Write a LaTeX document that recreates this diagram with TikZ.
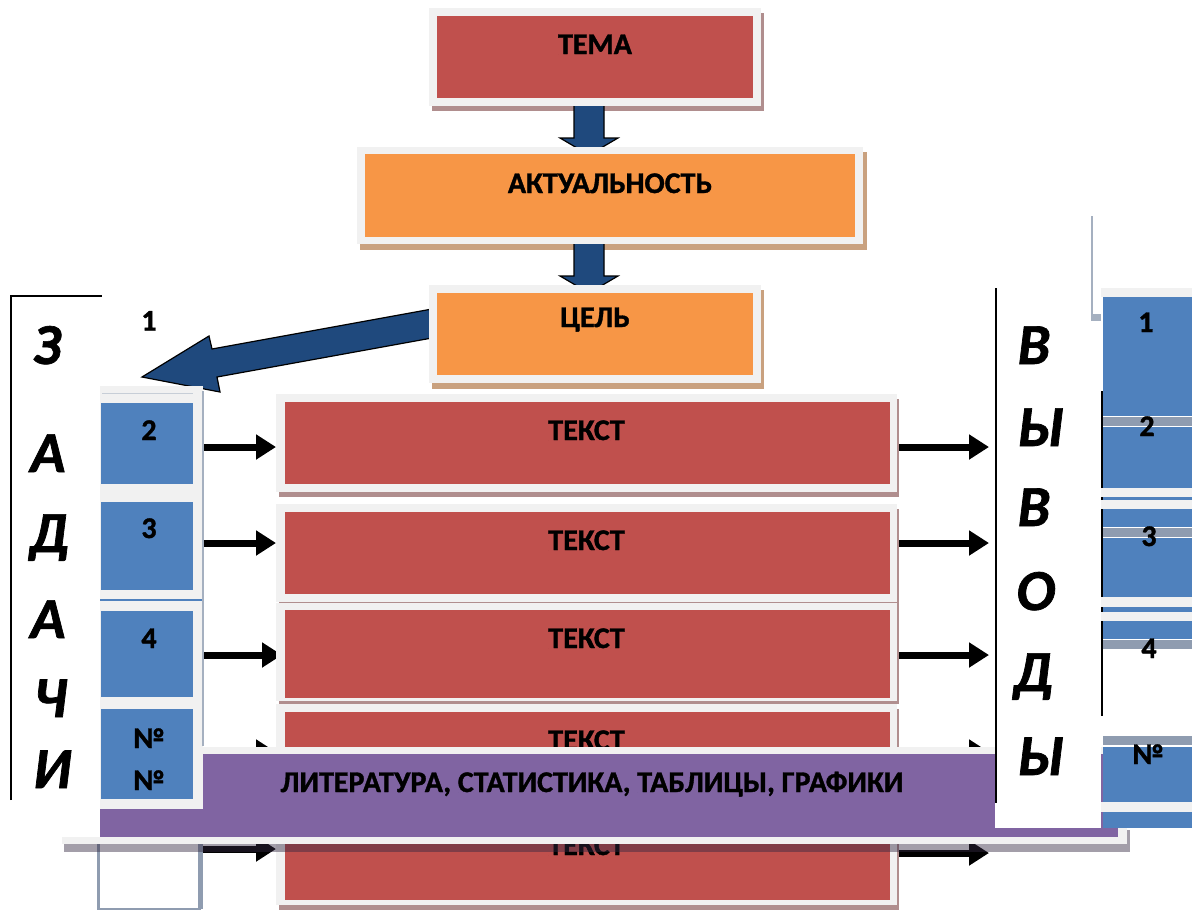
\documentclass[tikz,border=0pt]{standalone}
\usepackage{fontspec}
\setmainfont{Carlito}[BoldFeatures={FakeBold=1.2},BoldItalicFeatures={FakeBold=1.2}]
\usetikzlibrary{fit,arrows.meta}
\definecolor{cRed}{HTML}{C0504D}
\definecolor{cOrange}{HTML}{F79646}
\definecolor{cBlue}{HTML}{4F81BD}
\definecolor{cPurple}{HTML}{8064A2}
\definecolor{cNavy}{HTML}{1F497D}
\definecolor{cFrame}{HTML}{F1F1F1}
\definecolor{cShR}{HTML}{B08E8E}
\definecolor{cShO}{HTML}{C9A17F}
\definecolor{cGB}{HTML}{8F9CB0}
\pgfdeclarelayer{bgw}
\pgfdeclarelayer{bg}
\pgfsetlayers{bgw,bg,main}
\begin{document}
\begin{tikzpicture}[x=1pt,y=-1pt,
  lbl/.style={font=\fontsize{30}{33}\selectfont\bfseries, inner sep=0, anchor=base},
  big/.style={font=\fontsize{58}{60}\selectfont\bfseries\itshape, inner sep=0, anchor=base},
  boxn/.style={rectangle, inner sep=0, outer sep=0, draw=none},
  blk/.style={line width=7pt, -{Triangle[length=20pt,width=24pt]}},
  navyA/.style={fill=cNavy, draw=black, line width=1.2pt, line join=miter},
  pshadow/.style={fill=cPurple!40!black, fill opacity=0.45}
]
\useasboundingbox (0,0) rectangle (1192,911);
\begin{pgfonlayer}{bgw}
\fill[white] (0,0) rectangle (1192,911);
\end{pgfonlayer}

% ---- TEMA
\fill[cShR] (432,13) rectangle (764,111);
\node[boxn, fill=cFrame, fit={(429,8)(761,106)}] (temaF) {};
\node[boxn, fill=cRed, fit={(436.5,16)(753,98)}] (tema) {};
\node[lbl] (temaT) at (595,54) {ТЕМА};
\draw[navyA] ([xshift=-21pt]temaF.south) -- ++(0,32) -- ++(-14,0) -- ++(29,17) -- ++(29,-17) -- ++(-14,0) -- ++(0,-32);

% ---- AKTUALNOST
\fill[cShO] (360,152) rectangle (866.5,250);
\node[boxn, fill=cFrame, fit={(356.5,147)(863,244)}] (actF) {};
\node[boxn, fill=cOrange, fit={(365,154)(855,237)}] (act) {};
\node[lbl] (actT) at (610,193) {АКТУАЛЬНОСТЬ};
\draw[navyA] ([xshift=-35.75pt]actF.south) -- ++(0,32) -- ++(-14,0) -- ++(29,17) -- ++(29,-17) -- ++(-14,0) -- ++(0,-32);

% ---- big arrow from CEL
\coordinate (celTail) at (432,309);
\draw[navyA] (celTail) -- (212,349) -- (209,336) -- (142,377) -- (220,392) -- (217,377) -- (432,338);

% ---- CEL
\fill[cShO] (432,290) rectangle (764,389);
\node[boxn, fill=cFrame, fit={(429,285)(761,383)}] (celF) {};
\node[boxn, fill=cOrange, fit={(436.5,293)(753,375)}] (cel) {};
\node[lbl] (celT) at (595,327) {ЦЕЛЬ};

% ---- text rows
\fill[cShR] (279,399) rectangle (899,497);
\node[boxn, fill=cFrame, fit={(276,394)(897,492)}] (t1F) {};
\node[boxn, fill=cRed, fit={(285,402)(890,484)}] (t1) {};
\node[lbl] (t1T) at (586.5,440) {ТЕКСТ};

\fill[cShR] (279,509) rectangle (899,607);
\node[boxn, fill=cFrame, fit={(276,504)(897,602)}] (t2F) {};
\node[boxn, fill=cRed, fit={(285,512)(890,594)}] (t2) {};
\node[lbl] (t2T) at (586.5,550) {ТЕКСТ};

\fill[cShR] (279,606) rectangle (899,704);
\node[boxn, fill=cFrame, fit={(276,603)(897,701)}] (t3F) {};
\node[boxn, fill=cRed, fit={(285,610)(890,698)}] (t3) {};
\node[lbl] (t3T) at (586.5,648) {ТЕКСТ};

\fill[cShR] (279,709) rectangle (899,805);
\node[boxn, fill=cFrame, fit={(276,704)(897,800)}] (t4F) {};
\node[boxn, fill=cRed, fit={(285,712)(890,793)}] (t4) {};
\node[lbl] (t4T) at (586.5,750) {ТЕКСТ};

\fill[cShR] (279,811) rectangle (899,910);
\node[boxn, fill=cFrame, fit={(276,808)(897,905)}] (t5F) {};
\node[boxn, fill=cRed, fit={(285,815)(890,900)}] (t5) {};
\node[lbl] (t5T) at (586.5,855) {ТЕКСТ};

% ---- bottom-left empty box
\node[boxn, fill=white, fit={(97,843)(203,910)}] (bl) {};
\draw[cGB, line width=2.5pt] ([xshift=1.25pt]bl.north west) -- ([xshift=1.25pt,yshift=1.25pt]bl.south west) -- ([xshift=-2.5pt,yshift=1.25pt]bl.south east);
\draw[cGB, line width=5pt] ([xshift=-2.5pt,yshift=1.25pt]bl.south east) -- ([xshift=-2.5pt]bl.north east);

% ---- purple band
\fill[cFrame] (62,747) rectangle (1127,844);
\node[boxn, fill=cPurple, fit={(62,754)(1118,837)}] (lit) {};
\node[lbl] (litT) at (592,792) {ЛИТЕРАТУРА, СТАТИСТИКА, ТАБЛИЦЫ, ГРАФИКИ};
\fill[pshadow] (64,844) rectangle (1130,852);
\fill[pshadow] (1127,830) rectangle (1130,844);

% ---- ZADACHI box
\node[boxn, fill=white, fit={(12,297)(100,837)}] (zad) {};
\draw[black, line width=2pt] (11,800) -- (11,296) -- (102,296);
\node[big] (z1) at (47,364) {З};
\node[big] (z2) at (48,472) {А};
\node[big] (z3) at (49,552) {Д};
\node[big] (z4) at (48,638) {А};
\node[big] (z5) at (50,717) {Ч};
\node[big] (z6) at (52,788) {И};
\node[lbl] (n1) at (149,330.5) {1};

% ---- left blue column
\node[boxn, fill=cFrame, fit={(100,386)(203,809)}] (colF) {};
\draw[cGB!50, line width=1pt] (102,393) -- (193,393);
\node[boxn, fill=cBlue, fit={(101,403)(193,484)}] (b2) {};
\node[boxn, fill=cBlue, fit={(101,502)(193,590)}] (b3) {};
\fill[cBlue] (100,599) rectangle (203,601);
\node[boxn, fill=cBlue, fit={(101,611)(193,697)}] (b4) {};
\node[boxn, fill=cBlue, fit={(101,709)(193,799)}] (b5) {};
\draw[cGB!80, line width=1.5pt] (203,391) -- (203,746);
\node[lbl] (n2) at (149,440) {2};
\node[lbl] (n3) at (149,538) {3};
\node[lbl] (n4) at (149,648) {4};
\node[lbl] (n5) at (149,748) {№};
\node[lbl] (n6) at (149,790) {№};

% ---- VYVODY box
\node[boxn, fill=white, fit={(995,288)(1101,828)}] (vyv) {};
\draw[black, line width=2.5pt] (996,288) -- (996,803);
\draw[black, line width=2.5pt] (1102,391) -- (1102,716);
\node[big] (v1) at (1034,364) {В};
\node[big] (v2) at (1041,446) {Ы};
\node[big] (v3) at (1034,526) {В};
\node[big] (v4) at (1036,610) {О};
\node[big] (v5) at (1033,691) {Д};
\node[big] (v6) at (1041,775) {Ы};
\draw[cGB!80, line width=2pt] (1092,216) -- (1092,321);
\fill[cGB!80] (1092,314) rectangle (1101,321);

% ---- right blue column
\fill[cFrame] (1101,288) rectangle (1192,297);
\node[boxn, fill=cBlue, fit={(1103,297)(1192,416)}] (r1) {};
\fill[cGB] (1103,417) rectangle (1192,426);
\node[boxn, fill=cBlue, fit={(1103,427)(1192,488)}] (r2) {};
\fill[cFrame] (1101,488) rectangle (1192,497);
\fill[cBlue] (1103,497) rectangle (1192,500);
\fill[cFrame] (1101,500) rectangle (1192,509);
\fill[cBlue] (1103,509) rectangle (1192,527);
\fill[cGB] (1103,528) rectangle (1192,537);
\node[boxn, fill=cBlue, fit={(1103,538)(1192,597)}] (r3) {};
\fill[cFrame] (1101,597) rectangle (1192,607);
\fill[cBlue] (1103,607) rectangle (1192,612);
\fill[cFrame] (1101,612) rectangle (1192,621);
\fill[cBlue] (1103,621) rectangle (1192,639);
\fill[cGB] (1103,640) rectangle (1192,649);
\fill[cGB] (1103,736) rectangle (1192,745);
\node[boxn, fill=cBlue, fit={(1103,747)(1192,802)}] (r5) {};
\fill[cFrame] (1101,802) rectangle (1192,812);
\fill[cBlue] (1103,812) rectangle (1192,828);
\node[lbl] (m1) at (1146,332) {1};
\node[lbl] (m2) at (1147,436) {2};
\node[lbl] (m3) at (1149,546) {3};
\node[lbl] (m4) at (1149,658) {4};
\node[lbl] (m5) at (1148,764) {№};

% ---- black arrows (below everything)
\begin{pgfonlayer}{bg}
\draw[blk] (colF.east |- 0,447) -- (t1F.west |- 0,447);
\draw[blk] (colF.east |- 0,543) -- (t2F.west |- 0,543);
\draw[blk] (colF.east |- 0,655) -- ([xshift=6pt]t3F.west |- 0,655);
\draw[blk] (colF.east |- 0,752) -- (t4F.west |- 0,752);
\draw[blk] ([xshift=-6pt]bl.east |- 0,849) -- (t5F.west |- 0,849);
\draw[blk, shorten >=6pt] (t1F.east |- 0,447) -- (vyv.west |- 0,447);
\draw[blk, shorten >=6pt] (t2F.east |- 0,543) -- (vyv.west |- 0,543);
\draw[blk, shorten >=6pt] (t3F.east |- 0,655) -- (vyv.west |- 0,655);
\draw[blk, shorten >=6pt] (t4F.east |- 0,752) -- (vyv.west |- 0,752);
\draw[blk, shorten >=6pt] (t5F.east |- 0,853) -- (vyv.west |- 0,853);
\end{pgfonlayer}
\end{tikzpicture}
\end{document}
